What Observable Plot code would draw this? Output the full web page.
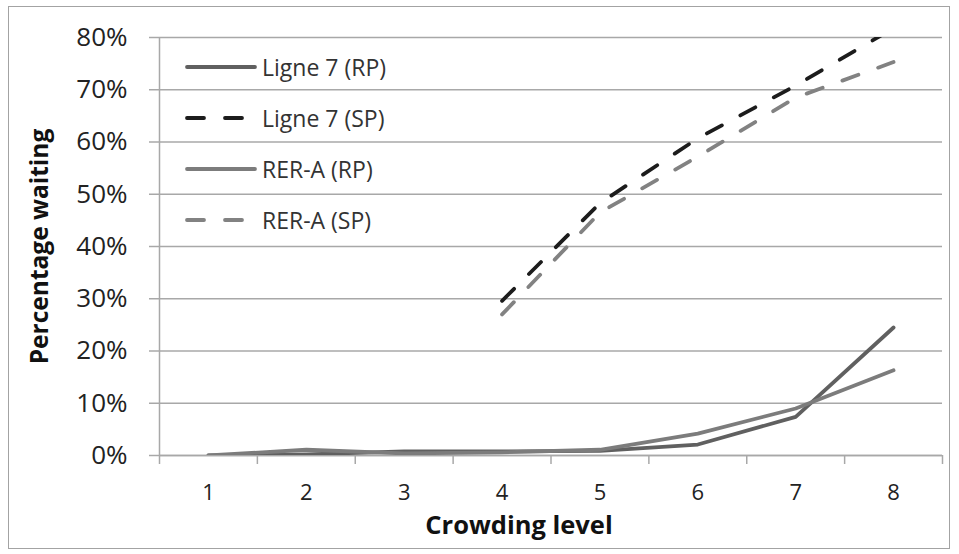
<!DOCTYPE html>
<html>
<head>
<meta charset="utf-8">
<script src="https://cdn.jsdelivr.net/npm/d3@7"></script>
<script src="https://cdn.jsdelivr.net/npm/@observablehq/plot@0.6"></script>
<style>
  html, body { margin: 0; padding: 0; background: #fff; }
  #wrap { position: relative; width: 959px; height: 554px; font-family: "Open Sans", sans-serif; }
  #frame { position: absolute; left: 8px; top: 6px; width: 940px; height: 541px; border: 1.5px solid #a3a3a3; pointer-events: none; }
  #legend { position: absolute; left: 185px; top: 52px; }
  .item { position: absolute; left: 0; height: 30px; width: 260px; }
  .item svg { position: absolute; left: 0; top: 0; }
  .item span { position: absolute; left: 77px; top: 0; line-height: 30px; font-size: 23px; color: #333; white-space: nowrap; }
</style>
</head>
<body>
<div id="wrap"><div id="chart"></div><div id="legend"></div><div id="frame"></div></div>
<script>
// ---- data ----
const levels = [1, 2, 3, 4, 5, 6, 7, 8];
const ligne7RP = [0, 0.2, 0.8, 0.8, 0.9, 2.1, 7.4, 24.5];
const ligne7SP = [null, null, null, 29.6, 48.3, 60.7, 70.8, 81.8];
const rerRP = [0, 1.1, 0.4, 0.6, 1.1, 4.2, 9.0, 16.3];
const rerSP = [null, null, null, 27.0, 46.5, 57.2, 68.5, 75.3];
const seriesNames = ["Ligne 7 (RP)", "Ligne 7 (SP)", "RER-A (RP)", "RER-A (SP)"];
const yTicks = [0, 10, 20, 30, 40, 50, 60, 70, 80];
const xDomain = [0.5, 8.5];
const xBoundaries = [0.5, 1.5, 2.5, 3.5, 4.5, 5.5, 6.5, 7.5, 8.5];
const xTitle = "Crowding level";
const yTitle = "Percentage waiting";

const styles = [
  {stroke: "#606060", dash: null},
  {stroke: "#1c1c1c", dash: "17,21"},
  {stroke: "#7c7c7c", dash: null},
  {stroke: "#828282", dash: "17,21"}
];
const allValues = [ligne7RP, ligne7SP, rerRP, rerSP];
const rows = s => levels.map((l, i) => ({level: l, value: allValues[s][i], series: seriesNames[s]}))
  .filter(d => d.value != null);

const gridColor = "#a8a8a8";

const lineMarks = seriesNames.map((name, s) => Plot.line(rows(s), {
  x: "level", y: "value", stroke: styles[s].stroke, strokeWidth: 3.8,
  strokeDasharray: styles[s].dash || undefined, strokeLinecap: "round", strokeLinejoin: "round", clip: true
}));

const chart = Plot.plot({
  width: 959, height: 554,
  marginLeft: 159, marginRight: 17, marginTop: 37, marginBottom: 99,
  style: {fontFamily: "Open Sans, sans-serif", background: "transparent"},
  x: {type: "linear", domain: xDomain},
  y: {domain: [yTicks[0], yTicks[yTicks.length - 1]]},
  marks: [
    Plot.gridY(yTicks, {stroke: gridColor, strokeOpacity: 1, strokeWidth: 1.5}),
    Plot.axisY(yTicks, {tickSize: 10, tickPadding: 22, tickFormat: d => d + "%", fontSize: 26,
      stroke: gridColor, strokeWidth: 1.5, fill: "#222", label: null}),
    Plot.ruleX([xDomain[0]], {stroke: gridColor, strokeWidth: 1.5}),
    Plot.axisX(xBoundaries, {tickSize: 9, tickFormat: () => "", stroke: gridColor, strokeWidth: 1.5, label: null}),
    Plot.axisX(levels, {tickSize: 0, tickPadding: 29, fontSize: 22, fill: "#222", label: null}),
    Plot.ruleY([yTicks[0]], {stroke: gridColor, strokeWidth: 1.5}),
    ...lineMarks,
    Plot.text([yTitle], {frameAnchor: "left", textAnchor: "middle", lineAnchor: "middle", dx: -119, rotate: -90,
      fontSize: 24.5, fontWeight: "bold", fill: "#111"}),
    Plot.text([xTitle], {frameAnchor: "bottom", textAnchor: "middle", lineAnchor: "middle", dx: -32, dy: 70,
      fontSize: 25.5, fontWeight: "bold", fill: "#111"})
  ]
});
document.getElementById("chart").appendChild(chart);

// legend
const legend = document.getElementById("legend");
seriesNames.forEach((name, s) => {
  const item = document.createElement("div");
  item.className = "item";
  item.style.top = (s * 51) + "px";
  const dash = styles[s].dash ? `stroke-dasharray="17,21"` : "";
  item.innerHTML = `<svg width="75" height="30"><line x1="2" y1="15" x2="${styles[s].dash ? 58 : 70}" y2="15" stroke="${styles[s].stroke}" stroke-width="3.8" stroke-linecap="round" ${dash}/></svg><span>${name}</span>`;
  legend.appendChild(item);
});
</script>
</body>
</html>
